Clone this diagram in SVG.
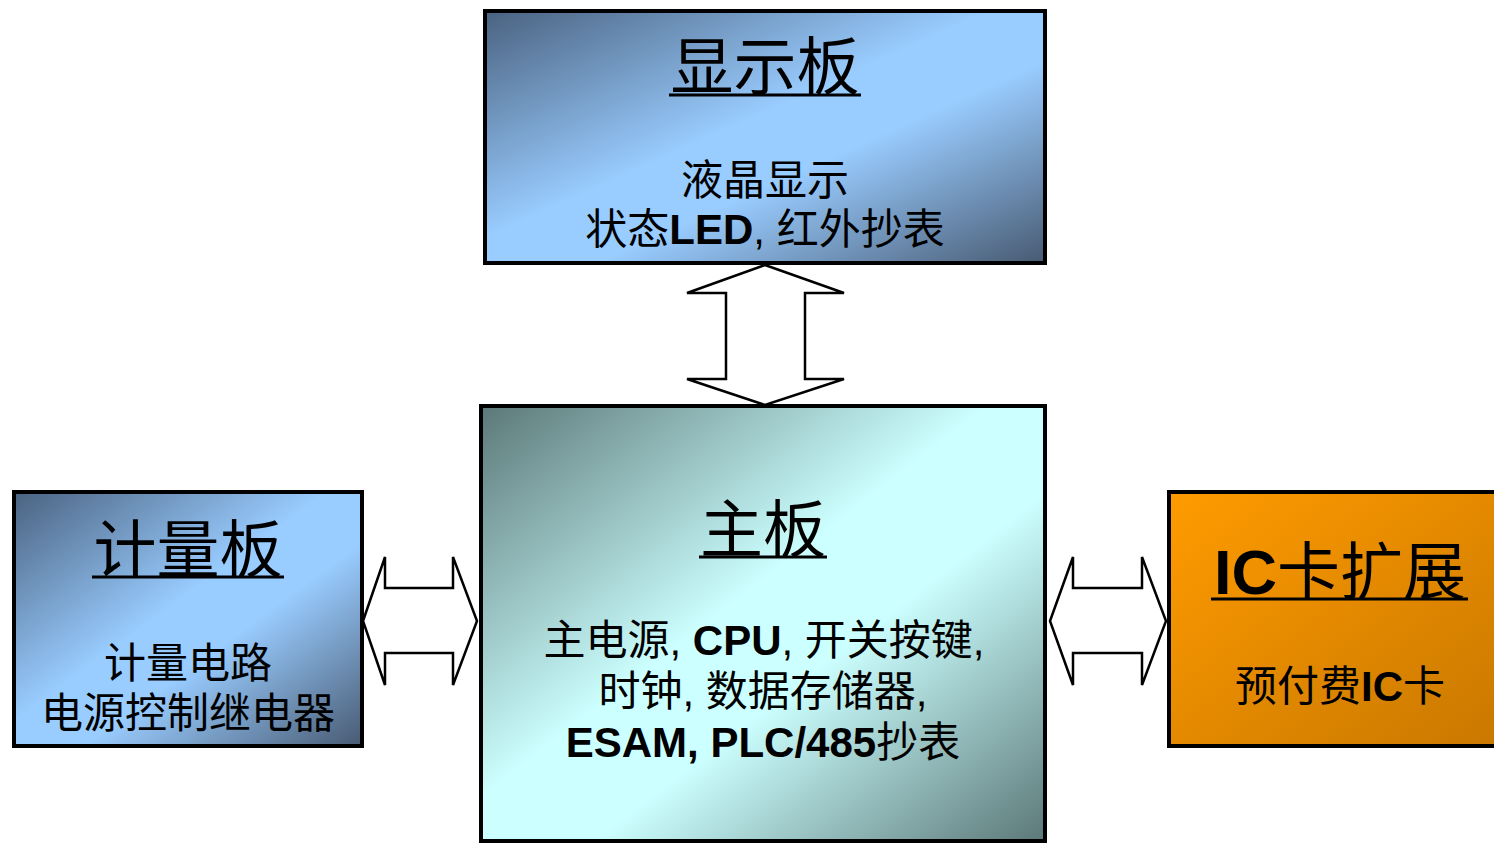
<svg xmlns="http://www.w3.org/2000/svg" width="1494" height="843" viewBox="0 0 1494 843">
<defs>
<linearGradient id="gBlue" x1="0" y1="0" x2="1" y2="1">
<stop offset="0" stop-color="#4a6280"/>
<stop offset="0.45" stop-color="#99ccff"/>
<stop offset="0.6" stop-color="#99ccff"/>
<stop offset="1" stop-color="#485a72"/>
</linearGradient>
<linearGradient id="gCyan" x1="0" y1="0" x2="1" y2="1">
<stop offset="0" stop-color="#5c7878"/>
<stop offset="0.45" stop-color="#ccffff"/>
<stop offset="0.6" stop-color="#ccffff"/>
<stop offset="1" stop-color="#5c7878"/>
</linearGradient>
<linearGradient id="gOrange" x1="0" y1="0" x2="1" y2="1">
<stop offset="0" stop-color="#ff9b00"/>
<stop offset="1" stop-color="#c97800"/>
</linearGradient>
<style>
.box{stroke:#000;stroke-width:4}
.t{font-family:"Noto Sans CJK SC","Liberation Sans",sans-serif;fill:#000;text-anchor:middle}
.title{font-size:63px}
.body{font-size:42px}
.b{font-family:"Liberation Sans",Arial,sans-serif;font-weight:bold}
.r{font-family:"Liberation Sans",Arial,sans-serif}
.ul{stroke:#000;stroke-width:3}
.arrow{fill:#fff;stroke:#000;stroke-width:2.5;stroke-linejoin:miter}
</style>
</defs>
<rect width="1494" height="843" fill="#fff"/>
<g id="connectors">
<polygon class="arrow" points="765,265 844,293 805,293 805,379 844,379 765,405 687,379 726,379 726,293 687,293"/>
<polygon class="arrow" points="363,621 385,557 385,588 453,588 453,557 477,621 453,685 453,653 385,653 385,685"/>
<polygon class="arrow" points="1050,621 1073,557 1073,588 1142,588 1142,557 1166,621 1142,685 1142,653 1073,653 1073,685"/>
</g>
<g id="display-board">
<rect class="box" x="485" y="11" width="560" height="252" fill="url(#gBlue)"/>
<text class="t title" x="765" y="89">显示板</text>
<line class="ul" x1="669" y1="95" x2="861" y2="95"/>
<text class="t body" x="765" y="195">液晶显示</text>
<text class="t body" x="765" y="244">状态<tspan class="b">LED</tspan><tspan class="r">, </tspan>红外抄表</text>
</g>
<g id="main-board">
<rect class="box" x="481" y="406" width="564" height="435" fill="url(#gCyan)"/>
<text class="t title" x="763" y="552">主板</text>
<line class="ul" x1="699" y1="557" x2="827" y2="557"/>
<text class="t body" x="764" y="655">主电源<tspan class="r">, </tspan><tspan class="b">CPU</tspan><tspan class="r">, </tspan>开关按键<tspan class="r">,</tspan></text>
<text class="t body" x="763" y="706">时钟<tspan class="r">, </tspan>数据存储器<tspan class="r">,</tspan></text>
<text class="t body" x="763" y="757"><tspan class="b">ESAM, PLC/485</tspan>抄表</text>
</g>
<g id="metering-board">
<rect class="box" x="14" y="492" width="348" height="254" fill="url(#gBlue)"/>
<text class="t title" x="188" y="572">计量板</text>
<line class="ul" x1="92" y1="577" x2="284" y2="577"/>
<text class="t body" x="188" y="678">计量电路</text>
<text class="t body" x="188" y="728">电源控制继电器</text>
</g>
<g id="ic-card">
<rect class="box" x="1169" y="492" width="330" height="254" fill="url(#gOrange)"/>
<text class="t title" x="1340" y="594"><tspan class="b">IC</tspan>卡扩展</text>
<line class="ul" x1="1211" y1="599" x2="1468" y2="599"/>
<text class="t body" x="1340" y="701">预付费<tspan class="b">IC</tspan>卡</text>
</g>
</svg>
